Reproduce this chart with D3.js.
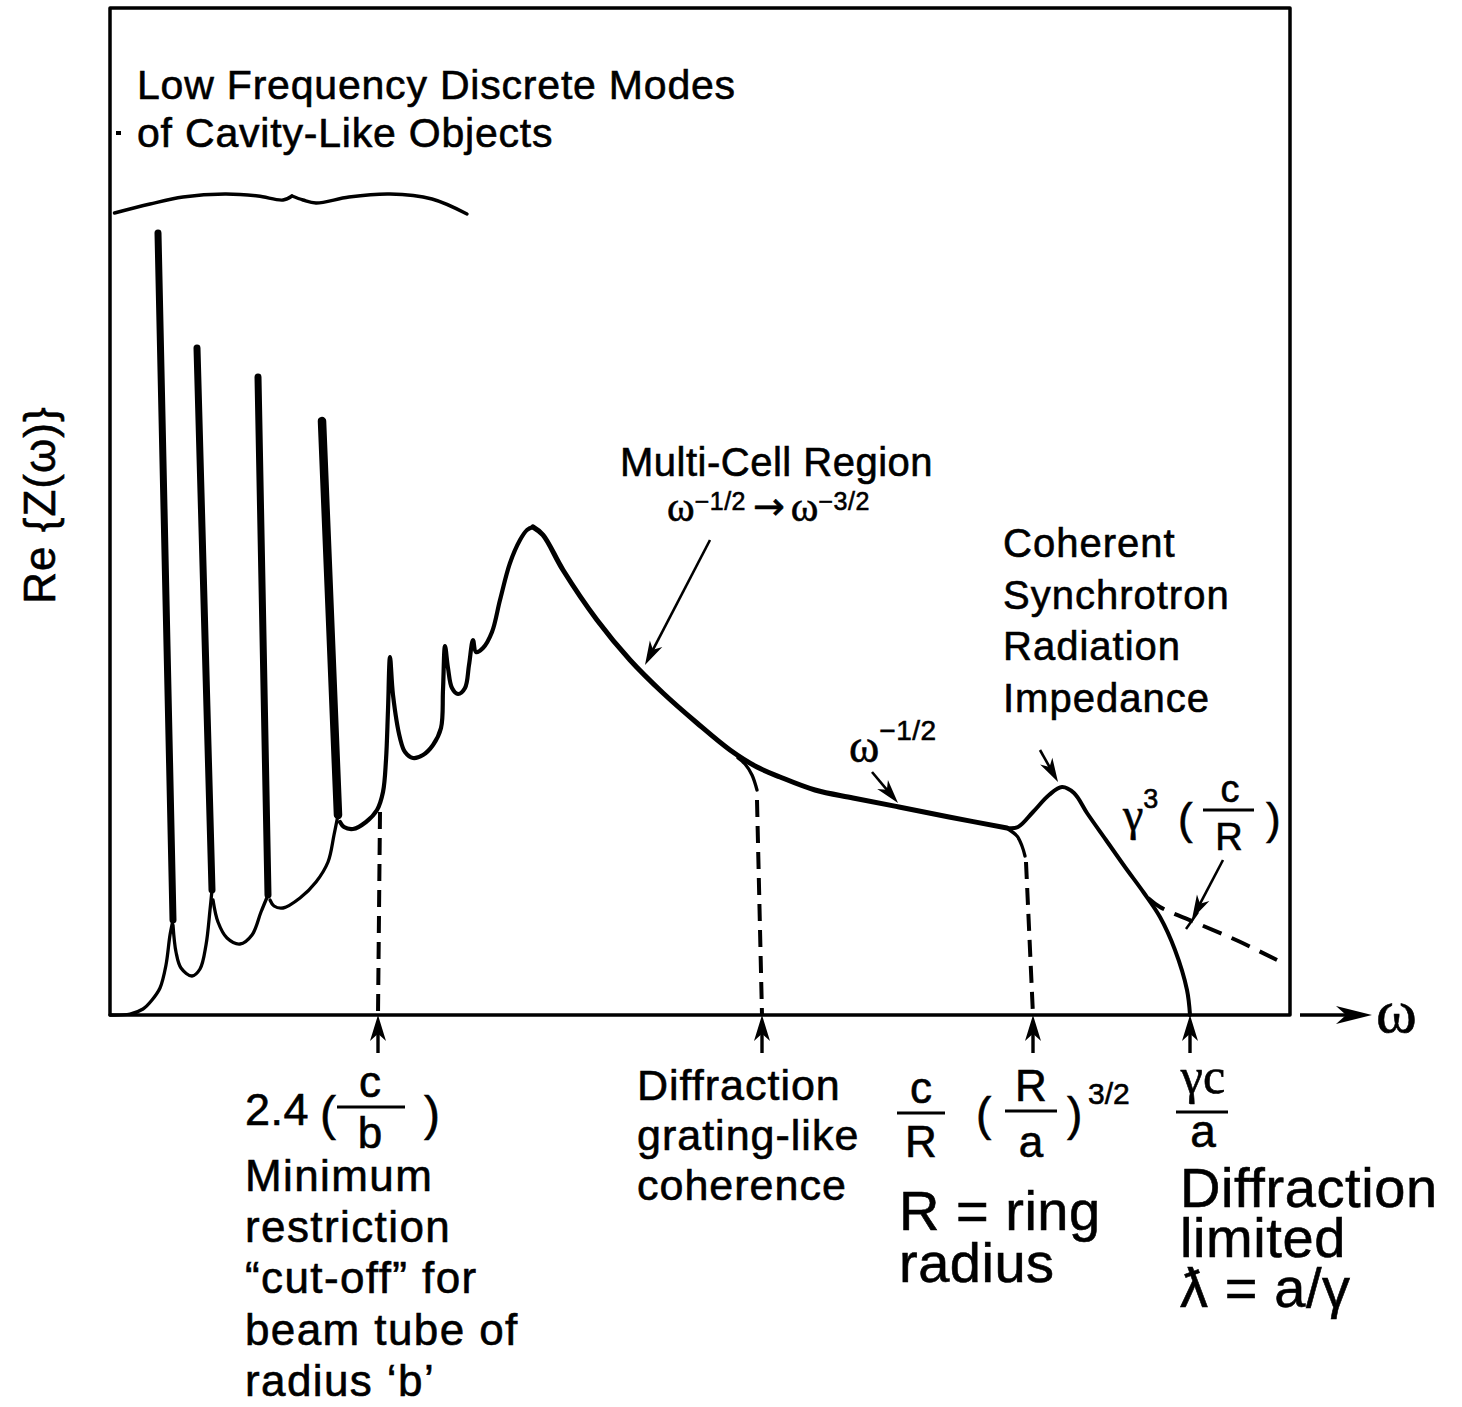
<!DOCTYPE html>
<html>
<head>
<meta charset="utf-8">
<script src="https://cdn.jsdelivr.net/npm/d3@7"></script>
<style>
  body { margin: 0; background: #fff; }
  text { font-family: "Liberation Sans", Arial, Helvetica, sans-serif; fill: #000; stroke: #000; stroke-width: 0.6px; }
  .serif { font-family: "Liberation Serif", "DejaVu Serif", serif; }
  .dejavu { font-family: "DejaVu Sans", sans-serif; }
</style>
</head>
<body>
<main></main>
<script>
// axis extents, arbitrary units
const omegaMax = 118;
const reZMax = 100.7;

// cavity-like resonances: [omega top, ReZ top, omega foot, ReZ foot]
const cavitySpikes = [
  [4.8, 78.2, 6.3, 9.5],
  [8.7, 66.7, 10.2, 12.5],
  [14.8, 63.8, 15.8, 12.0],
  [21.2, 59.4, 22.8, 20.0]
];

// thin background between the spikes
const valleys = [
  [[0, 0], [2.0, 0.1], [3.3, 0.6], [4.2, 1.5], [5.0, 2.7], [5.6, 5.0], [6.0, 8.0], [6.3, 9.5]],
  [[6.3, 9.0], [6.6, 6.3], [7.1, 4.7], [8.2, 3.9], [9.0, 4.6], [9.6, 7.0], [10.0, 10.5], [10.2, 12.5]],
  [[10.3, 11.5], [10.8, 9.3], [11.7, 7.7], [13.0, 7.1], [14.2, 8.0], [15.1, 10.3], [15.8, 12.0]],
  [[16.0, 11.5], [16.4, 10.9], [17.3, 10.7], [19.0, 11.7], [20.6, 13.3], [21.8, 15.3], [22.4, 18.0], [22.8, 20.0]]
];

// beam tube modes up to the multi-cell peak
const multiCell = [
  [23.0, 19.3], [23.4, 18.8], [24.3, 18.6], [25.6, 19.3], [26.7, 20.5], [27.3, 22.3], [27.6, 25.5],
  [27.8, 30.5], [28.0, 35.8], [28.3, 32.0], [29.0, 27.7], [29.5, 26.3], [30.3, 25.7], [31.3, 26.0],
  [32.3, 27.0], [33.1, 28.7], [33.3, 32.5], [33.5, 36.9], [33.8, 34.7], [34.2, 32.7], [34.8, 32.1],
  [35.5, 32.7], [35.9, 35.0], [36.3, 37.5], [36.6, 36.3], [37.3, 36.7], [38.2, 38.3], [39.0, 41.5],
  [40.0, 45.2], [41.0, 47.5], [41.7, 48.5], [42.3, 48.8]
];

// omega^-1/2 -> omega^-3/2 fall-off
const falloff = [
  [42.3, 48.8], [43.3, 48.0], [45.3, 44.5], [48.7, 39.5], [52.0, 35.5], [55.3, 32.2], [58.7, 29.2],
  [62.0, 26.5], [64.7, 24.8], [67.0, 23.8], [70.5, 22.5], [74.3, 21.7], [78.9, 20.8], [83.9, 19.8],
  [89.7, 18.7]
];

// coherent synchrotron radiation bump and diffraction cut-off
const csrBump = [
  [89.7, 18.7], [90.8, 18.8], [92.3, 20.3], [93.9, 22.0], [95.2, 22.8], [96.4, 22.2], [97.7, 20.2],
  [99.6, 17.5], [101.5, 14.8], [103.4, 12.2], [105.0, 9.8], [106.5, 6.5], [107.7, 2.5], [108.0, 0]
];

const gratingBranch = [[62.8, 25.7], [63.5, 25.1], [64.2, 24.0], [64.7, 22.5]];
const ringBranch = [[89.8, 18.6], [90.7, 17.9], [91.2, 16.9], [91.5, 15.9]];

const cutoffDash = [[27.0, 20.3], [26.8, 0]];
const gratingDash = [[64.7, 21.5], [65.2, 0]];
const ringDash = [[91.6, 15.3], [92.3, 0]];
const csrDash = [[103.8, 11.7], [105.0, 10.8], [108.4, 9.3], [112.6, 7.5], [116.7, 5.5]];

// characteristic frequencies marked under the axis
const markerOmega = [26.8, 65.2, 92.3, 108.0];

// label pointers: [from omega, from ReZ, to omega, to ReZ]
const pointers = [
  [60.0, 47.5, 53.5, 35.0],
  [76.2, 24.3, 78.8, 21.2],
  [93.0, 26.5, 94.8, 23.3],
  [111.3, 15.5, 108.2, 9.6]
];

// curly brace over the discrete modes
const braceLeft = [[0.45, 80.2], [4.0, 81.1], [7.3, 81.8], [11.5, 82.1], [14.8, 81.9], [17.3, 81.5], [18.2, 81.9]];
const braceRight = [[18.2, 81.9], [19.3, 81.5], [20.6, 81.2], [23.9, 81.8], [28.0, 82.1], [32.2, 81.6], [35.7, 80.1]];

const width = 1462;
const height = 1407;

const x = d3.scaleLinear().domain([0, omegaMax]).range([110, 1290]);
const y = d3.scaleLinear().domain([0, reZMax]).range([1015, 8]);

const svg = d3.select('main')
  .append('svg')
  .attr('width', width)
  .attr('height', height);

const curve = d3.line()
  .x(d => x(d[0]))
  .y(d => y(d[1]))
  .curve(d3.curveCatmullRom.alpha(0.5));

// frame
svg.append('path')
  .attr('d', `M${x(0)},${y(0)}V${y(reZMax)}H${x(omegaMax)}V${y(0)}Z`)
  .attr('fill', 'none')
  .attr('stroke', '#000')
  .attr('stroke-width', 3.5)
  .attr('stroke-linejoin', 'round');

function arrowHead(x1, y1, x2, y2, len, half) {
  const dx = x2 - x1, dy = y2 - y1;
  const l = Math.hypot(dx, dy);
  const ux = dx / l, uy = dy / l;
  const nx = -uy, ny = ux;
  const bx = x2 - ux * len, by = y2 - uy * len;
  const mx = x2 - ux * len * 0.72, my = y2 - uy * len * 0.72;
  return `M${x2},${y2}L${bx + nx * half},${by + ny * half}L${mx},${my}L${bx - nx * half},${by - ny * half}Z`;
}

function arrow(x1, y1, x2, y2, sw, len, half) {
  const l = Math.hypot(x2 - x1, y2 - y1);
  const ex = x2 - (x2 - x1) / l * len * 0.7;
  const ey = y2 - (y2 - y1) / l * len * 0.7;
  svg.append('line')
    .attr('x1', x1).attr('y1', y1).attr('x2', ex).attr('y2', ey)
    .attr('stroke', '#000').attr('stroke-width', sw);
  svg.append('path')
    .attr('d', arrowHead(x1, y1, x2, y2, len, half))
    .attr('fill', '#000');
}

// omega axis arrow beyond the frame
arrow(x(omegaMax) + 10, y(0), x(omegaMax) + 82, y(0), 3.5, 36, 9);

// brace
[braceLeft, braceRight].forEach(b => {
  svg.append('path')
    .attr('d', curve(b))
    .attr('fill', 'none')
    .attr('stroke', '#000')
    .attr('stroke-width', 3.4)
    .attr('stroke-linecap', 'round');
});

// thin pieces
valleys.concat([gratingBranch, ringBranch]).forEach(v => {
  svg.append('path')
    .attr('d', curve(v))
    .attr('fill', 'none')
    .attr('stroke', '#000')
    .attr('stroke-width', 3.3)
    .attr('stroke-linecap', 'round')
    .attr('stroke-linejoin', 'round');
});

svg.append('path')
  .attr('d', curve(multiCell))
  .attr('fill', 'none')
  .attr('stroke', '#000')
  .attr('stroke-width', 4.2)
  .attr('stroke-linecap', 'round')
  .attr('stroke-linejoin', 'round');

svg.append('path')
  .attr('d', curve(falloff))
  .attr('fill', 'none')
  .attr('stroke', '#000')
  .attr('stroke-width', 5)
  .attr('stroke-linecap', 'round');

svg.append('path')
  .attr('d', curve(csrBump))
  .attr('fill', 'none')
  .attr('stroke', '#000')
  .attr('stroke-width', 4)
  .attr('stroke-linecap', 'round');

// resonance spikes
svg.selectAll('line.spike')
  .data(cavitySpikes)
  .enter()
  .append('line')
  .attr('class', 'spike')
  .attr('x1', d => x(d[0])).attr('y1', d => y(d[1]))
  .attr('x2', d => x(d[2])).attr('y2', d => y(d[3]))
  .attr('stroke', '#000')
  .attr('stroke-width', (d, i) => i === 3 ? 8.5 : 7)
  .attr('stroke-linecap', 'round');

// dashed guides
[cutoffDash, gratingDash, ringDash].forEach(dl => {
  svg.append('path')
    .attr('d', d3.line().x(d => x(d[0])).y(d => y(d[1]))(dl))
    .attr('fill', 'none')
    .attr('stroke', '#000')
    .attr('stroke-width', 4)
    .attr('stroke-dasharray', '17,9');
});

svg.append('path')
  .attr('d', curve(csrDash))
  .attr('fill', 'none')
  .attr('stroke', '#000')
  .attr('stroke-width', 4)
  .attr('stroke-dasharray', '20,11');

// markers under axis
markerOmega.forEach(w => {
  arrow(x(w), y(0) + 38, x(w), y(0), 3.4, 26, 8);
});

// label pointers
pointers.forEach(p => {
  arrow(x(p[0]), y(p[1]), x(p[2]), y(p[3]), 2.6, 24, 7);
});

// tick across the dashed extension
svg.append('line')
  .attr('x1', x(107.6)).attr('y1', y(8.6))
  .attr('x2', x(108.8)).attr('y2', y(10.3))
  .attr('stroke', '#000').attr('stroke-width', 2.5);

// small mark left of the second heading line
svg.append('rect')
  .attr('x', 116).attr('y', 131).attr('width', 5).attr('height', 4)
  .attr('fill', '#000');

// text helpers
function label(t, px, py, size, opts = {}) {
  const el = svg.append('text')
    .attr('x', px)
    .attr('y', py)
    .style('font-size', size + 'px')
    .text(t);
  if (opts.anchor) el.attr('text-anchor', opts.anchor);
  if (opts.ls !== undefined) el.style('letter-spacing', opts.ls + 'px');
  if (opts.cls) el.attr('class', opts.cls);
  if (opts.rotate) el.attr('transform', `rotate(${opts.rotate},${px},${py})`);
  return el;
}

// several lines in one text element
function block(lines, px, py, size, lh, ls) {
  const el = svg.append('text')
    .attr('x', px)
    .attr('y', py)
    .style('font-size', size + 'px')
    .style('letter-spacing', ls + 'px');
  lines.forEach((t, i) => {
    el.append('tspan')
      .attr('x', px)
      .attr('dy', i === 0 ? 0 : lh)
      .text(t);
  });
  return el;
}

// base and superscript pieces inside one text element
function seq(parts, px, py) {
  const el = svg.append('text')
    .attr('x', px)
    .attr('y', py);
  let prev = 0;
  parts.forEach(p => {
    const sh = p.dy || 0;
    const ts = el.append('tspan')
      .attr('dx', p.gap || 0)
      .attr('dy', sh - prev)
      .style('font-size', p.size + 'px')
      .text(p.t);
    if (p.ls !== undefined) ts.style('letter-spacing', p.ls + 'px');
    if (p.cls) ts.attr('class', p.cls);
    prev = sh;
  });
  return el;
}

function fracLine(x1, x2, yy) {
  svg.append('line')
    .attr('x1', x1).attr('x2', x2).attr('y1', yy).attr('y2', yy)
    .attr('stroke', '#000').attr('stroke-width', 2.8);
}

// heading
block(['Low Frequency Discrete Modes', 'of Cavity-Like Objects'], 137, 99, 41, 48, 0.8);

// y label
label('Re {Z(ω)}', 55, 505, 44, { anchor: 'middle', rotate: -90, ls: 1 });

// omega label
label('ω', 1376, 1032, 62, { cls: 'serif' });

// multi-cell
label('Multi-Cell Region', 620, 476, 40, { ls: 0.5 });
seq([
  { t: 'ω', size: 42, cls: 'serif' },
  { t: '−1/2', size: 25, dy: -11, ls: 0.5 },
  { t: '→', size: 38, dy: -2, gap: 7, cls: 'dejavu' },
  { t: 'ω', size: 42, gap: 6, cls: 'serif' },
  { t: '−3/2', size: 25, dy: -11, ls: 0.5 }
], 667, 521);

// csr
block(['Coherent', 'Synchrotron', 'Radiation', 'Impedance'], 1003, 557, 40, 51.7, 1);

// omega^-1/2 on curve
seq([
  { t: 'ω', size: 46, cls: 'serif' },
  { t: '−1/2', size: 28, dy: -22, ls: 0.5 }
], 849, 762);

// gamma^3 (c/R)
seq([
  { t: 'γ', size: 46, cls: 'serif' },
  { t: '3', size: 27, dy: -22 }
], 1123, 830);
label('(', 1178, 834, 44);
label('c', 1230, 802, 38, { anchor: 'middle' });
fracLine(1203, 1254, 810);
label('R', 1229, 850, 38, { anchor: 'middle' });
label(')', 1266, 834, 44);

// 2.4 (c/b)
label('2.4', 245, 1125, 45, { ls: 0.5 });
label('(', 320, 1130, 48);
label('c', 370, 1097, 44, { anchor: 'middle' });
fracLine(337, 405, 1107);
label('b', 370, 1148, 44, { anchor: 'middle' });
label(')', 424, 1130, 48);
block(['Minimum', 'restriction', '“cut-off” for', 'beam tube of', 'radius ‘b’'], 245, 1191, 44, 51.2, 1.4);

// diffraction grating
block(['Diffraction', 'grating-like', 'coherence'], 637, 1100, 43, 50, 1);

// c/R (R/a)^3/2
label('c', 921, 1103, 44, { anchor: 'middle' });
fracLine(897, 945, 1113);
label('R', 921, 1157, 44, { anchor: 'middle' });
label('(', 976, 1130, 46);
label('R', 1031, 1101, 44, { anchor: 'middle' });
fracLine(1005, 1057, 1111);
label('a', 1031, 1157, 44, { anchor: 'middle' });
label(')', 1067, 1130, 46);
label('3/2', 1088, 1104, 30);
block(['R = ring', 'radius'], 899, 1230, 56, 52, 0.5);

// gamma c / a
label('γc', 1203, 1093, 50, { anchor: 'middle', cls: 'serif' });
fracLine(1176, 1228, 1112);
label('a', 1203, 1147, 46, { anchor: 'middle' });
block(['Diffraction', 'limited', 'ƛ = a/γ'], 1180, 1207, 56, 50, 0.6);
</script>
</body>
</html>
